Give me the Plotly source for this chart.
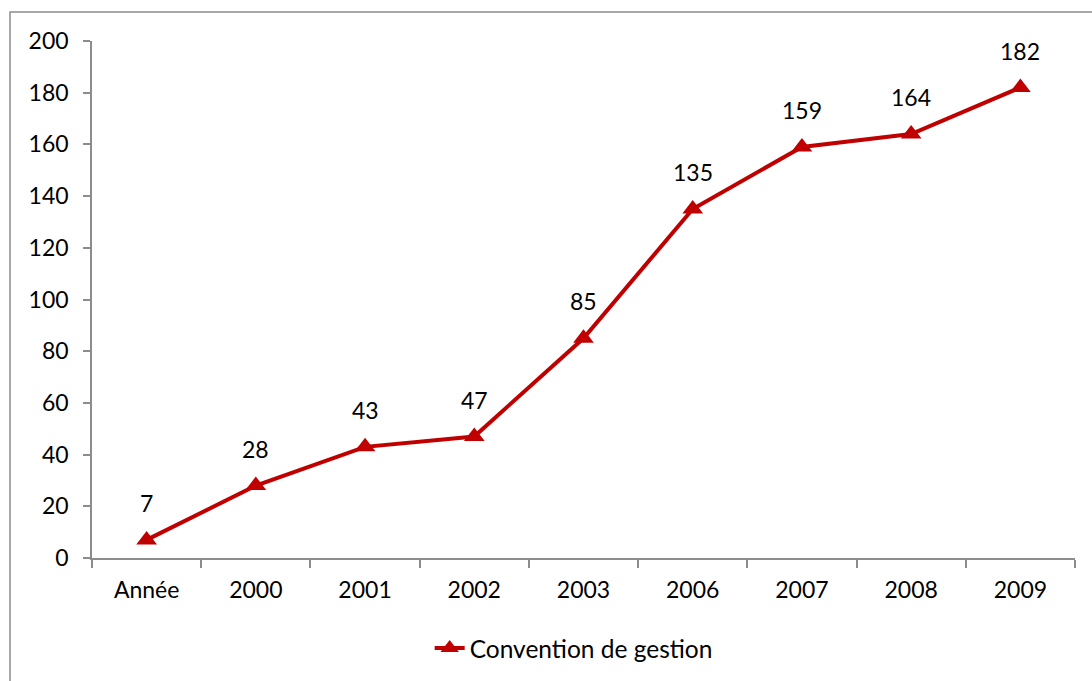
import plotly.graph_objects as go

categories = ["Année", "2000", "2001", "2002", "2003", "2006", "2007", "2008", "2009"]
values = [7, 28, 43, 47, 85, 135, 159, 164, 182]
series_name = "Convention de gestion"
y_ticks = [0, 20, 40, 60, 80, 100, 120, 140, 160, 180, 200]

RED = "#C00000"
GRAY = "#8C8C8C"
FONT = "Lato"
FS = 23

fig = go.Figure()
fig.add_trace(go.Scatter(
    x=categories, y=values, name=series_name,
    mode="lines+markers",
    line=dict(color=RED, width=4),
    marker=dict(symbol="triangle-up", size=18, color=RED),
))

for i, v in enumerate(values):
    fig.add_annotation(x=i, y=v, xref="x", yref="y", text=str(v), showarrow=False, yshift=37,
                       font=dict(family=FONT, size=FS, color="black"))

W, H = 1092, 681
L, R, T, B = 92, 17, 41, 122
pw, ph = W - L - R, H - T - B
# outer chart border (left/top visible)
fig.add_shape(type="rect", xref="paper", yref="paper",
              x0=(10 - L) / pw, x1=(W + 20 - L) / pw,
              y0=-(B + 20) / ph, y1=(H - B - 12) / ph,
              line=dict(color=GRAY, width=1.5), layer="below")

fig.update_layout(
    width=W, height=H,
    margin=dict(l=L, r=R, t=T, b=B),
    paper_bgcolor="white", plot_bgcolor="white",
    font=dict(family=FONT, size=FS, color="black"),
    showlegend=True,
    legend=dict(orientation="h", x=0.49, xanchor="center", y=-0.172, yanchor="middle",
                font=dict(family=FONT, size=24.5, color="black")),
    xaxis=dict(type="category", range=[-0.5, 8.5], showline=True, linecolor=GRAY, linewidth=1.5,
               ticks="outside", tickson="boundaries", ticklen=8, tickcolor=GRAY, tickwidth=1.5,
               ticklabelstandoff=11,
               showgrid=False, zeroline=False, tickfont=dict(family=FONT, size=FS)),
    yaxis=dict(range=[0, 200], tickvals=y_ticks, showline=True, linecolor=GRAY, linewidth=1.5,
               ticks="outside", ticklen=7, tickcolor=GRAY, tickwidth=1.5,
               ticklabelstandoff=10,
               showgrid=False, zeroline=False, tickfont=dict(family=FONT, size=FS)),
)

fig.write_html("out.html", config={"displayModeBar": False},
               post_script="document.body.style.margin='0';document.body.style.overflow='hidden';")
